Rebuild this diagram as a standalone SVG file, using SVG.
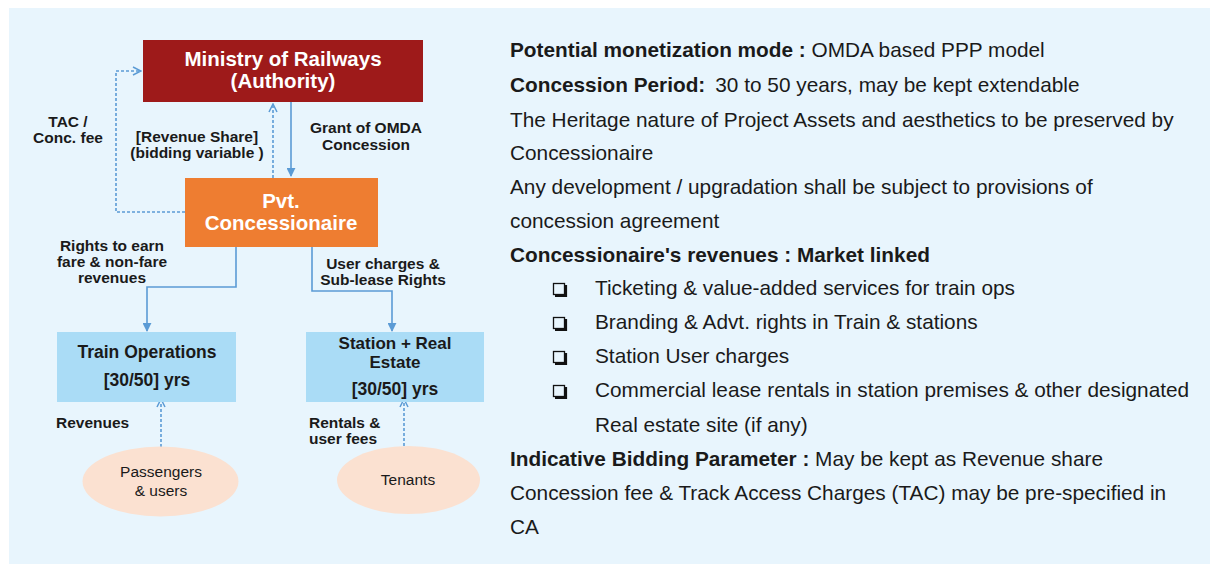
<svg xmlns="http://www.w3.org/2000/svg" width="1210" height="564" viewBox="0 0 1210 564">
<style>
.lbl{font-family:"Liberation Sans",Arial,sans-serif;font-weight:bold;font-size:15.5px;fill:#1a1a1a;text-anchor:middle}
.lbll{font-family:"Liberation Sans",Arial,sans-serif;font-weight:bold;font-size:15.5px;fill:#1a1a1a}
.wt{font-family:"Liberation Sans",Arial,sans-serif;font-weight:bold;font-size:20.5px;fill:#ffffff;text-anchor:middle}
.bt{font-family:"Liberation Sans",Arial,sans-serif;font-weight:bold;font-size:17.5px;fill:#1a1a1a;text-anchor:middle}
.et{font-family:"Liberation Sans",Arial,sans-serif;font-size:15.5px;fill:#1a1a1a;text-anchor:middle}
.rt{font-family:"Liberation Sans",Arial,sans-serif;font-size:20.8px;fill:#1a1a1a}
.b{font-weight:bold}
.solid{fill:none;stroke:#5b9bd5;stroke-width:1.6}
.dash{fill:none;stroke:#5b9bd5;stroke-width:1.6;stroke-dasharray:3 2}
.cb{fill:none;stroke:#111;stroke-width:1.3}
.cbs{fill:none;stroke:#111;stroke-width:2.2}
</style>
<defs>
<marker id="open" viewBox="0 0 10 10" refX="9" refY="5" markerWidth="10" markerHeight="10" markerUnits="userSpaceOnUse" orient="auto">
<path d="M1,1 L9,5 L1,9" fill="none" stroke="#5b9bd5" stroke-width="1.5"/>
</marker>
<marker id="fill" viewBox="0 0 10 10" refX="9" refY="5" markerWidth="9" markerHeight="9" markerUnits="userSpaceOnUse" orient="auto">
<path d="M0,0 L10,5 L0,10 z" fill="#5b9bd5"/>
</marker>
</defs>
<rect x="9" y="8" width="1201" height="556" fill="#e8f5fd"/>

<g id="connectors">
<path class="dash" d="M185,212 H116 V71 H141" marker-end="url(#open)"/>
<path class="dash" d="M273,178 V104" marker-end="url(#open)"/>
<path class="solid" d="M291,102 V176" marker-end="url(#fill)"/>
<path class="solid" d="M236,247 V287 H147 V331" marker-end="url(#fill)"/>
<path class="solid" d="M312,247 V291 H392 V331" marker-end="url(#fill)"/>
<path class="dash" d="M161,447 V399" marker-end="url(#open)"/>
<path class="dash" d="M404,446 V399" marker-end="url(#open)"/>
<text class="lbl" x="68" y="127">TAC /</text>
<text class="lbl" x="68" y="143">Conc. fee</text>
<text class="lbl" x="197" y="142">[Revenue Share]</text>
<text class="lbl" x="197" y="158">(bidding  variable )</text>
<text class="lbl" x="366" y="133">Grant of OMDA</text>
<text class="lbl" x="366" y="150">Concession</text>
<text class="lbl" x="112" y="251">Rights to earn</text>
<text class="lbl" x="112" y="267">fare &amp; non-fare</text>
<text class="lbl" x="112" y="283">revenues</text>
<text class="lbl" x="383" y="269">User charges &amp;</text>
<text class="lbl" x="383" y="285">Sub-lease Rights</text>
<text class="lbll" x="56" y="428">Revenues</text>
<text class="lbll" x="309" y="428">Rentals &amp;</text>
<text class="lbll" x="309" y="444">user fees</text>
</g>

<g id="ministry">
<rect x="143" y="40" width="280" height="62" fill="#9e1a1a"/>
<text class="wt" x="283" y="66">Ministry of Railways</text>
<text class="wt" x="283" y="88">(Authority)</text>
</g>

<g id="concessionaire">
<rect x="185" y="178" width="193" height="69" fill="#ee7d31"/>
<text class="wt" x="281" y="208">Pvt.</text>
<text class="wt" x="281" y="230">Concessionaire</text>
</g>

<g id="train-ops">
<rect x="57" y="332" width="179" height="70" fill="#aadcf6"/>
<text class="bt" x="147" y="358">Train Operations</text>
<text class="bt" x="147" y="386">[30/50] yrs</text>
</g>

<g id="station">
<rect x="306" y="332" width="178" height="70" fill="#aadcf6"/>
<text class="bt" x="395" y="349" style="font-size:17px">Station + Real</text>
<text class="bt" x="395" y="368" style="font-size:17px">Estate</text>
<text class="bt" x="395" y="395">[30/50] yrs</text>
</g>

<g id="passengers">
<ellipse cx="160.5" cy="481.5" rx="78" ry="35" fill="#fbe1d1"/>
<text class="et" x="161" y="477">Passengers</text>
<text class="et" x="161" y="496">&amp; users</text>
</g>

<g id="tenants">
<ellipse cx="408.5" cy="480" rx="71.5" ry="34" fill="#fbe1d1"/>
<text class="et" x="408" y="485">Tenants</text>
</g>

<g id="description">
<text class="rt" x="510" y="57"><tspan class="b">Potential monetization mode :</tspan> OMDA based PPP model</text>
<text class="rt" x="510" y="92"><tspan class="b">Concession Period:</tspan><tspan dx="10">30 to 50 years, may be kept extendable</tspan></text>
<text class="rt" x="510" y="127">The Heritage nature of Project Assets and aesthetics to be preserved by</text>
<text class="rt" x="510" y="160">Concessionaire</text>
<text class="rt" x="510" y="194">Any development / upgradation shall be subject to provisions of</text>
<text class="rt" x="510" y="228">concession agreement</text>
<text class="rt b" x="510" y="262">Concessionaire's revenues : Market linked</text>
<text class="rt" x="595" y="295">Ticketing &amp; value-added services for train ops</text>
<text class="rt" x="595" y="329">Branding &amp; Advt.  rights in Train &amp; stations</text>
<text class="rt" x="595" y="363">Station User charges</text>
<text class="rt" x="595" y="397">Commercial lease rentals in station premises &amp; other designated</text>
<text class="rt" x="595" y="432">Real estate site (if any)</text>
<text class="rt" x="510" y="466"><tspan class="b">Indicative Bidding Parameter :</tspan> May be kept as Revenue share</text>
<text class="rt" x="510" y="500">Concession fee &amp; Track Access Charges (TAC) may be pre-specified in</text>
<text class="rt" x="510" y="534">CA</text>
<g id="checkboxes">
<rect class="cb" x="553.5" y="283.5" width="11" height="11"/>
<path class="cbs" d="M566,285 V296 H555"/>
<rect class="cb" x="553.5" y="317.5" width="11" height="11"/>
<path class="cbs" d="M566,319 V330 H555"/>
<rect class="cb" x="553.5" y="351.5" width="11" height="11"/>
<path class="cbs" d="M566,353 V364 H555"/>
<rect class="cb" x="553.5" y="385.5" width="11" height="11"/>
<path class="cbs" d="M566,387 V398 H555"/>
</g>
</g>
</svg>
